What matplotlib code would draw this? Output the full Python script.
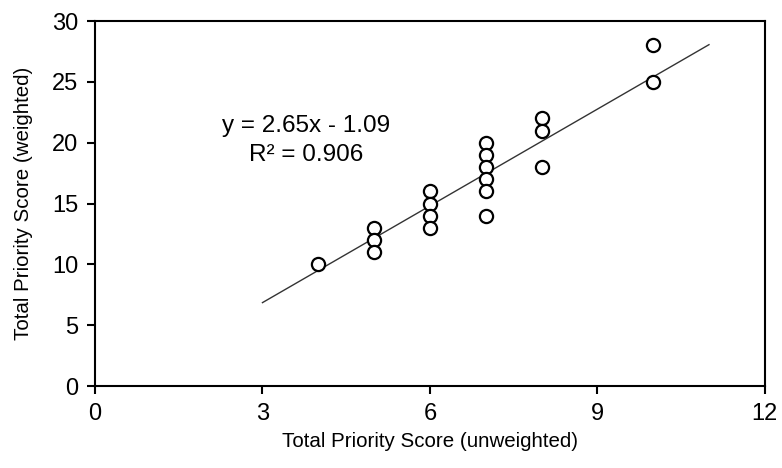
import numpy as np
import matplotlib
matplotlib.use("Agg")
import matplotlib.pyplot as plt

plt.rcParams["font.family"] = ["Liberation Sans", "DejaVu Sans"]

# scores per item
unweighted = [4, 5, 5, 5, 6, 6, 6, 6, 7, 7, 7, 7, 7, 7, 8, 8, 8, 10, 10]
weighted = [10, 13, 12, 11, 16, 15, 14, 13, 20, 19, 18, 17, 16, 14, 22, 21, 18, 28, 25]

# linear fit reported on the chart
slope = 2.65
intercept = -1.09
r_squared = 0.906
fit_range = [3, 11]

fig = plt.figure(figsize=(7.82, 4.68), dpi=100)
ax = fig.add_axes([0.1215, 0.175, 0.8565, 0.78])

fx = np.array(fit_range, dtype=float)
ax.plot(fx, slope * fx + intercept, color="#333333", lw=1.0, zorder=1)
ax.scatter(unweighted, weighted, s=90, facecolors="white", edgecolors="black",
           linewidths=1.6, zorder=2)

ax.text(3.78, 21.4, "y = %.2fx - %.2f" % (slope, abs(intercept)), fontsize=17.5,
        ha="center", va="center")
ax.text(3.78, 19.0, "R² = %.3f" % r_squared, fontsize=17.5, ha="center", va="center")

ax.set_xlim(0, 12)
ax.set_ylim(0, 30)
ax.set_xticks([0, 3, 6, 9, 12])
ax.set_yticks([0, 5, 10, 15, 20, 25, 30])
ax.tick_params(direction="out", length=6, width=1.5, labelsize=17, pad=6)
for sp in ax.spines.values():
    sp.set_linewidth(1.5)

ax.set_xlabel("Total Priority Score (unweighted)", fontsize=14.8, labelpad=5)
ax.set_ylabel("Total Priority Score (weighted)", fontsize=14.8, labelpad=14)

fig.savefig("out.png", dpi=100)
